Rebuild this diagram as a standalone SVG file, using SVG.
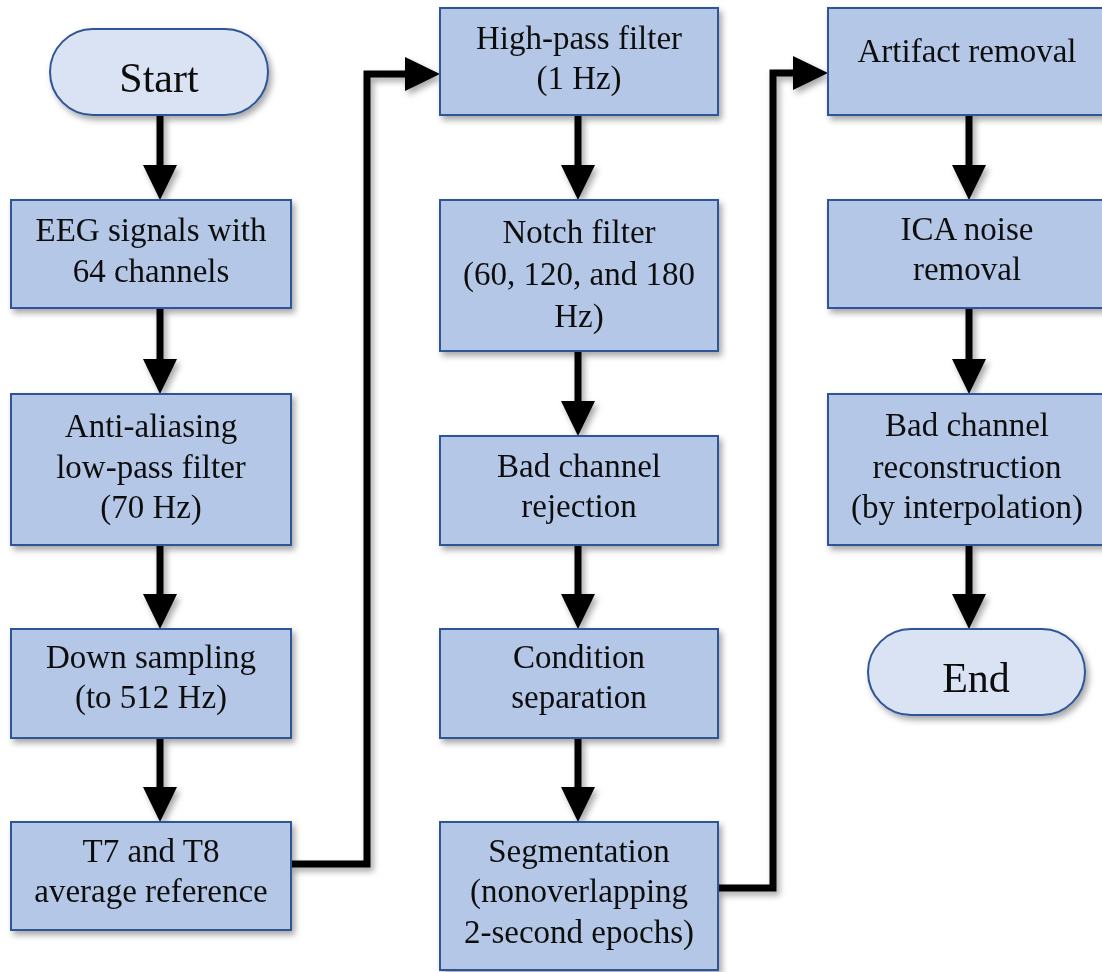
<svg xmlns="http://www.w3.org/2000/svg" width="1102" height="972" viewBox="0 0 1102 972">
<defs>
<filter id="sh" x="-10%" y="-10%" width="130%" height="130%">
<feDropShadow dx="3" dy="4" stdDeviation="3" flood-color="#000" flood-opacity="0.35"/>
</filter>
<marker id="ah" viewBox="0 0 35 34" refX="0" refY="17" markerWidth="35" markerHeight="34" markerUnits="userSpaceOnUse" orient="auto">
<path d="M0,0 L35,17 L0,34 Z" fill="#000"/>
</marker>
<style>
.box{fill:#b4c7e7;stroke:#2f5597;stroke-width:2;}
.pill{fill:#dae3f3;stroke:#2f5597;stroke-width:2;}
text{font-family:"Liberation Serif","Times New Roman",serif;font-size:33px;fill:#111;text-anchor:middle;}
.big{font-size:42px;}
.conn{fill:none;stroke:#000;stroke-width:7;marker-end:url(#ah);}
</style>
</defs>
<rect width="1102" height="972" fill="#fff"/>
<g id="connectors" filter="url(#sh)">
<path class="conn" d="M160,115 V165"/>
<path class="conn" d="M160,308 V359"/>
<path class="conn" d="M160,545 V594"/>
<path class="conn" d="M160,738 V787"/>
<path class="conn" d="M578,115 V165"/>
<path class="conn" d="M578,351 V401"/>
<path class="conn" d="M578,545 V594"/>
<path class="conn" d="M578,738 V787"/>
<path class="conn" d="M969,115 V165"/>
<path class="conn" d="M969,308 V359"/>
<path class="conn" d="M969,545 V594"/>
<path class="conn" d="M291,864 H367 V74 H405"/>
<path class="conn" d="M718,888 H773 V73 H793"/>
</g>
<g id="start" filter="url(#sh)"><rect class="pill" x="50" y="29" width="218" height="86" rx="43"/><text class="big" x="159" y="92">Start</text></g>
<g id="eeg" filter="url(#sh)"><rect class="box" x="11" y="200" width="280" height="108"/><text x="151" y="241">EEG signals with</text><text x="151" y="282">64 channels</text></g>
<g id="antialias" filter="url(#sh)"><rect class="box" x="11" y="394" width="280" height="151"/><text x="151" y="437">Anti-aliasing</text><text x="151" y="478">low-pass filter</text><text x="151" y="518">(70 Hz)</text></g>
<g id="downsample" filter="url(#sh)"><rect class="box" x="11" y="629" width="280" height="109"/><text x="151" y="668">Down sampling</text><text x="151" y="708">(to 512 Hz)</text></g>
<g id="t7t8" filter="url(#sh)"><rect class="box" x="11" y="822" width="280" height="108"/><text x="151" y="862">T7 and T8</text><text x="151" y="902">average reference</text></g>
<g id="highpass" filter="url(#sh)"><rect class="box" x="440" y="8" width="278" height="107"/><text x="579" y="49">High-pass filter</text><text x="579" y="89">(1 Hz)</text></g>
<g id="notch" filter="url(#sh)"><rect class="box" x="440" y="200" width="278" height="151"/><text x="579" y="243">Notch filter</text><text x="579" y="285">(60, 120, and 180</text><text x="579" y="327">Hz)</text></g>
<g id="badreject" filter="url(#sh)"><rect class="box" x="440" y="436" width="278" height="109"/><text x="579" y="477">Bad channel</text><text x="579" y="517">rejection</text></g>
<g id="condition" filter="url(#sh)"><rect class="box" x="440" y="629" width="278" height="109"/><text x="579" y="668">Condition</text><text x="579" y="708">separation</text></g>
<g id="segmentation" filter="url(#sh)"><rect class="box" x="440" y="822" width="278" height="148"/><text x="579" y="862">Segmentation</text><text x="579" y="902">(nonoverlapping</text><text x="579" y="943">2-second epochs)</text></g>
<g id="artifact" filter="url(#sh)"><rect class="box" x="828" y="8" width="278" height="107"/><text x="967" y="62">Artifact removal</text></g>
<g id="ica" filter="url(#sh)"><rect class="box" x="828" y="200" width="278" height="108"/><text x="967" y="240">ICA noise</text><text x="967" y="280">removal</text></g>
<g id="badrecon" filter="url(#sh)"><rect class="box" x="828" y="394" width="278" height="151"/><text x="967" y="436">Bad channel</text><text x="967" y="478">reconstruction</text><text x="967" y="518">(by interpolation)</text></g>
<g id="end" filter="url(#sh)"><rect class="pill" x="868" y="629" width="217" height="86" rx="43"/><text class="big" x="976" y="692">End</text></g>
</svg>
